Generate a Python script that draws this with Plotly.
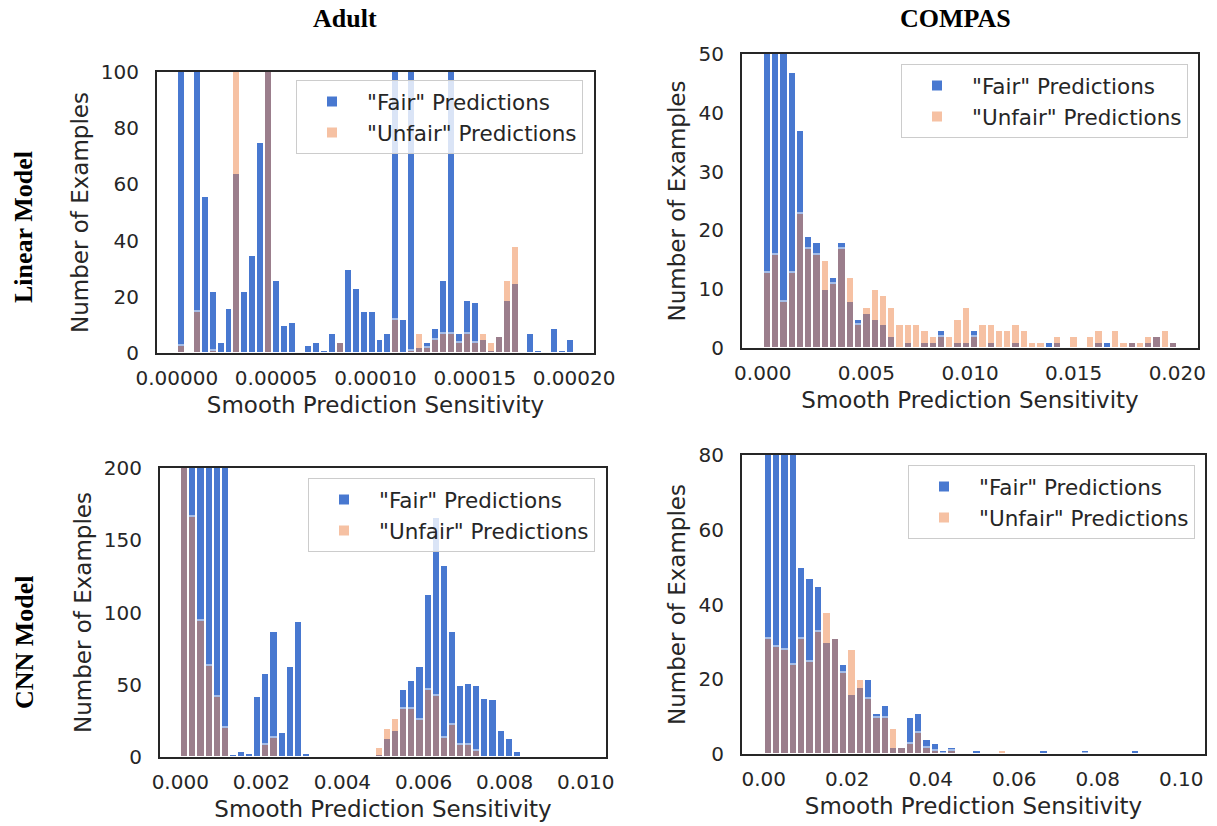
import numpy as np
import plotly.graph_objects as go

# ---------------- data (counts per histogram bin, 50 bins each) ----------------
# Adult / Linear model : bins over [0, 0.0002]
adult_lin_max = 0.0002
adult_lin_fair = [180, 0.5, 160, 56, 22, 4, 16, 64, 22, 35,
                  75, 150, 26, 10, 11, 0.5, 3, 4, 1, 7,
                  4, 30, 23, 15, 15, 5, 7, 130, 12, 140,
                  2, 4, 9, 26, 140, 7, 19, 18, 5, 1,
                  6, 19, 25, 0.4, 7, 1, 0.5, 9, 1, 5]
adult_lin_unfair = [3, 0, 15, 0, 1, 0, 0, 130, 0, 0,
                    0, 120, 0, 0, 0, 0, 0, 0, 0, 0,
                    4, 0, 0, 0, 0, 0, 0, 12, 0, 1,
                    7, 2, 5, 7, 7, 4, 7, 4, 7, 4,
                    6, 26, 38, 0, 0, 0, 0, 0, 0, 0]

# COMPAS / Linear model : bins over [0, 0.02]
compas_lin_max = 0.02
compas_lin_fair = [70, 60, 55, 47, 37, 19, 18, 10, 12, 18,
                   8, 5, 6, 5, 4, 2, 0, 1, 0, 1,
                   1, 3, 0, 1, 1, 3, 0, 1, 0, 0,
                   1, 0, 0, 0, 1, 1, 0, 0, 0, 0,
                   1, 1, 0, 0, 1, 0, 1, 2, 0, 1]
compas_lin_unfair = [13, 16, 8, 13, 23, 17, 16, 15, 11, 17,
                     12, 4, 7, 10, 9, 7, 4, 4, 4, 3,
                     2, 2, 2, 5, 7, 2, 4, 4, 3, 3,
                     4, 3, 1, 1, 0, 2, 0, 2, 0, 2,
                     3, 0, 3, 1, 1, 1, 2, 2, 3, 1]

# Adult / CNN model : bins over [0, 0.01]
adult_cnn_max = 0.01
adult_cnn_fair = [320, 300, 300, 300, 300, 300, 2, 4, 3, 42,
                  58, 87, 17, 63, 94, 3, 0, 0, 0, 0,
                  0, 0, 0, 0, 2, 13, 19, 47, 53, 63,
                  113, 166, 133, 87, 50, 51, 50, 41, 40, 19,
                  13, 4, 1, 0, 0, 0, 0, 0, 0, 0]
adult_cnn_unfair = [260, 167, 95, 64, 42, 21, 0, 0, 0, 0,
                    9, 14, 0, 0, 0, 0, 0, 0, 0, 0,
                    0, 0, 0, 0, 7, 20, 27, 34, 34, 26,
                    47, 43, 14, 23, 9, 9, 5, 0, 0, 0,
                    0, 0, 0, 0, 0, 0, 0, 0, 0, 0]

# COMPAS / CNN model : bins over [0, 0.1]
compas_cnn_max = 0.1
compas_cnn_fair = [120, 110, 100, 95, 50, 47, 45, 30, 31, 24,
                   16, 18, 20, 11, 13, 2, 2, 10, 11, 4,
                   3, 1, 2, 0, 0.5, 1, 0, 0, 0, 0,
                   0, 0, 0, 1, 0, 0, 0.4, 0.4, 1, 0.4,
                   0.4, 0, 0, 0, 1, 0, 0, 0, 0, 0]
compas_cnn_unfair = [31, 29, 28, 24, 31, 25, 33, 38, 31, 22,
                     28, 20, 15, 10, 10, 7, 2, 3, 6, 2,
                     1, 0.3, 1, 0.4, 0, 0, 0, 0.4, 1, 0,
                     0, 0, 0, 0, 0, 0, 0, 0, 0.4, 0,
                     0, 0, 0, 0.4, 0, 0, 0, 0, 0, 0]

col_titles = ["Adult", "COMPAS"]
row_titles = ["Linear Model", "CNN Model"]
fair_name = '"Fair" Predictions'
unfair_name = '"Unfair" Predictions'
x_title = "Smooth Prediction Sensitivity"
y_title = "Number of Examples"

# ---------------- style ----------------
BLUE = "#4878d0"
ORANGE = "#ee854a"
INK = "#262626"
FONT = "DejaVu Sans"
FS = 20
FT = 23
W, H = 1217, 826

panels = [
    dict(f=adult_lin_fair, u=adult_lin_unfair, mx=adult_lin_max,
         xd=[157 / W, 594 / W], yd=[1 - 353 / H, 1 - 72 / H],
         xr=[-0.00001, 0.00021], yr=[0, 100], dx=0.00005, fmt=".5f", dy=20,
         leg=(583 / W, 1 - 80 / H)),
    dict(f=compas_lin_fair, u=compas_lin_unfair, mx=compas_lin_max,
         xd=[742 / W, 1198 / W], yd=[1 - 348 / H, 1 - 54 / H],
         xr=[-0.001, 0.021], yr=[0, 50], dx=0.005, fmt=".3f", dy=10,
         leg=(1188 / W, 1 - 64 / H)),
    dict(f=adult_cnn_fair, u=adult_cnn_unfair, mx=adult_cnn_max,
         xd=[160 / W, 606 / W], yd=[1 - 757 / H, 1 - 468 / H],
         xr=[-0.0005, 0.0105], yr=[0, 200], dx=0.002, fmt=".3f", dy=50,
         leg=(595 / W, 1 - 478 / H)),
    dict(f=compas_cnn_fair, u=compas_cnn_unfair, mx=compas_cnn_max,
         xd=[742 / W, 1205 / W], yd=[1 - 754 / H, 1 - 455 / H],
         xr=[-0.0052, 0.1057], yr=[0, 80], dx=0.02, fmt=".2f", dy=20,
         leg=(1195 / W, 1 - 465 / H)),
]

fig = go.Figure()
layout = {}
for i, p in enumerate(panels, start=1):
    sfx = "" if i == 1 else str(i)
    leg = "legend" if i == 1 else f"legend{i}"
    edges = np.linspace(0, p["mx"], len(p["f"]) + 1)
    centers = (edges[:-1] + edges[1:]) / 2
    bw = edges[1] - edges[0]
    fig.add_trace(go.Bar(x=centers, y=p["f"], width=bw, name=fair_name,
                         marker=dict(color=BLUE, line=dict(color="white", width=2)),
                         xaxis="x" + sfx, yaxis="y" + sfx, legend=leg))
    fig.add_trace(go.Bar(x=centers, y=p["u"], width=bw, name=unfair_name,
                         marker=dict(color=ORANGE, line=dict(color="white", width=2)),
                         opacity=0.5,
                         xaxis="x" + sfx, yaxis="y" + sfx, legend=leg))
    layout["xaxis" + sfx] = dict(
        domain=p["xd"], anchor="y" + sfx, range=p["xr"], dtick=p["dx"], tick0=0,
        tickformat=p["fmt"], showline=True, mirror=True, linecolor=INK, linewidth=2,
        showgrid=False, zeroline=False, ticks="", ticklabelstandoff=6, automargin=False,
        tickfont=dict(family=FONT, size=FS, color=INK),
        title=dict(text=x_title, font=dict(family=FONT, size=FT, color=INK), standoff=8))
    layout["yaxis" + sfx] = dict(
        domain=p["yd"], anchor="x" + sfx, range=p["yr"], dtick=p["dy"], tick0=0,
        showline=True, mirror=True, linecolor=INK, linewidth=2,
        showgrid=False, zeroline=False, ticks="", ticklabelstandoff=12, automargin=False,
        tickfont=dict(family=FONT, size=FS, color=INK),
        title=dict(text=y_title, font=dict(family=FONT, size=FT, color=INK), standoff=6))
    layout[leg] = dict(
        x=p["leg"][0], y=p["leg"][1], xanchor="right", yanchor="top",
        bgcolor="rgba(255,255,255,0.8)", bordercolor="#cccccc", borderwidth=1,
        font=dict(family=FONT, size=21.5, color=INK), itemwidth=60,
        tracegroupgap=4)

title_font = dict(family="Liberation Serif", size=26, color="black")
annotations = [
    dict(text=f"<b>{col_titles[0]}</b>", x=345 / W, y=1 - 18 / H, xanchor="center",
         yanchor="middle", xref="paper", yref="paper", showarrow=False, font=title_font),
    dict(text=f"<b>{col_titles[1]}</b>", x=955 / W, y=1 - 18 / H, xanchor="center",
         yanchor="middle", xref="paper", yref="paper", showarrow=False, font=title_font),
    dict(text=f"<b>{row_titles[0]}</b>", x=24 / W, y=1 - 227 / H, xanchor="center",
         yanchor="middle", xref="paper", yref="paper", showarrow=False, textangle=-90,
         font=title_font),
    dict(text=f"<b>{row_titles[1]}</b>", x=24 / W, y=1 - 642 / H, xanchor="center",
         yanchor="middle", xref="paper", yref="paper", showarrow=False, textangle=-90,
         font=title_font),
]

fig.update_layout(
    width=W, height=H, margin=dict(l=0, r=0, t=0, b=0, autoexpand=False),
    paper_bgcolor="white", plot_bgcolor="white",
    barmode="overlay", bargap=0,
    annotations=annotations,
    **layout,
)

fig.write_html("out.html")
